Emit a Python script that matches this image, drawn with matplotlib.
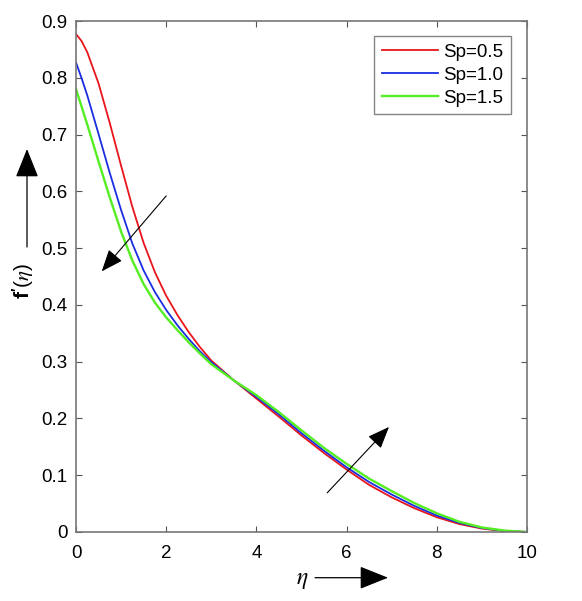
import numpy as np
import matplotlib
matplotlib.use("Agg")
import matplotlib.pyplot as plt
from matplotlib.patches import FancyArrowPatch

plt.rcParams['font.family'] = ['Liberation Sans', 'DejaVu Sans']
plt.rcParams['mathtext.fontset'] = 'custom'
plt.rcParams['mathtext.rm'] = 'Liberation Sans'
plt.rcParams['mathtext.bf'] = 'Liberation Sans:bold'
plt.rcParams['mathtext.it'] = 'STIXGeneral:italic'

# values
eta = [0, 0.125, 0.25, 0.5, 0.75, 1.0, 1.25, 1.5, 1.75, 2.0, 2.25, 2.5, 2.75, 3.0, 3.5,
       4.0, 4.5, 5.0, 5.5, 6.0, 6.5, 7.0, 7.5, 8.0, 8.5, 9.0, 9.5, 10.0]

sp05 = [0.877, 0.8645, 0.845, 0.790, 0.720, 0.645, 0.5725, 0.509, 0.4575, 0.416, 0.382, 0.352, 0.3255, 0.302, 0.267,
        0.235, 0.203, 0.170, 0.139, 0.110, 0.083, 0.061, 0.042, 0.026, 0.014, 0.006, 0.0015, 0.0]
sp10 = [0.827, 0.799, 0.769, 0.701, 0.632, 0.567, 0.508, 0.4605, 0.4225, 0.391, 0.364, 0.340, 0.318, 0.299, 0.267,
        0.238, 0.207, 0.174, 0.143, 0.114, 0.088, 0.066, 0.046, 0.029, 0.016, 0.007, 0.002, 0.0]
sp15 = [0.780, 0.749, 0.7175, 0.6525, 0.589, 0.529, 0.478, 0.4365, 0.404, 0.378, 0.3555, 0.334, 0.3143, 0.2955, 0.267,
        0.241, 0.211, 0.179, 0.148, 0.120, 0.094, 0.072, 0.051, 0.033, 0.018, 0.008, 0.0025, 0.0]

labels = ['Sp=0.5', 'Sp=1.0', 'Sp=1.5']
colors = ['#e8151b', '#1a2de0', '#55ee22']
widths = [1.3, 1.3, 1.7]

xticks = [0, 2, 4, 6, 8, 10]
yticks = [0, 0.1, 0.2, 0.3, 0.4, 0.5, 0.6, 0.7, 0.8, 0.9]

fig = plt.figure(figsize=(5.82, 6.01), dpi=100)
ax = fig.add_axes([76/582, 1-532/601, 451/582, 511/601])

for vals, lab, c, w in zip([sp05, sp10, sp15], labels, colors, widths):
    ax.plot(eta, vals, color=c, lw=w, label=lab)

ax.set_xlim(0, 10)
ax.set_ylim(0, 0.9)
ax.set_xticks(xticks)
ax.set_yticks(yticks)
ax.set_xticklabels(['%g' % t for t in xticks])
ax.set_yticklabels(['%g' % t for t in yticks])
ax.tick_params(direction='in', length=4, width=0.8, color='#555555',
               labelsize=13.5, top=True, right=True, pad=6)
ax.tick_params(axis='x', pad=9)
for s in ax.spines.values():
    s.set_color('#777777')
    s.set_linewidth(1.2)

leg = ax.legend(loc='upper right', bbox_to_anchor=(511/582, 1-36/601),
                bbox_transform=fig.transFigure, fontsize=13.5, fancybox=False,
                handlelength=3.0, handletextpad=0.3, borderpad=0.4,
                labelspacing=0.32, borderaxespad=0)
leg.get_frame().set_edgecolor('#666666')
leg.get_frame().set_linewidth(1.0)

# arrows inside the plot
arr = dict(arrowstyle='-|>,head_length=0.8,head_width=0.32', color='k',
           lw=0.8, mutation_scale=17, shrinkA=0, shrinkB=0)
ax.annotate('', xy=(0.57, 0.459), xytext=(2.0, 0.592), arrowprops=arr)
ax.annotate('', xy=(6.94, 0.185), xytext=(5.57, 0.069), arrowprops=arr)

# axis labels with arrows
fig.text(23/582, 1-281/601, r"$\mathbf{f'}(\eta)$", rotation=90,
         ha='center', va='center', fontsize=15)
fig.text(302/582, 1-580/601, r"$\eta$", ha='center', va='center', fontsize=17)
arr2 = dict(arrowstyle='-|>,head_length=1.0,head_width=0.4', color='k',
            lw=0.9, mutation_scale=18, shrinkA=0, shrinkB=0)
fig.add_artist(FancyArrowPatch((27/582, 1-247/601), (27/582, 1-149/601),
                               transform=fig.transFigure, **arr2))
fig.add_artist(FancyArrowPatch((315/582, 1-577.7/601), (388/582, 1-577.7/601),
                               transform=fig.transFigure, **arr2))

fig.savefig('out.png', dpi=100)
